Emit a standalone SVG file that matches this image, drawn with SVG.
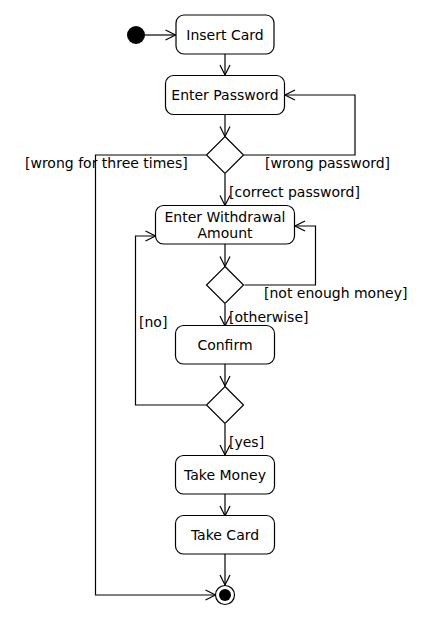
<svg xmlns="http://www.w3.org/2000/svg" width="432" height="638" viewBox="0 0 432 638">
<style>
.n{fill:#fff;stroke:#000;stroke-width:1.2}
.t{font-family:"DejaVu Sans",sans-serif;font-size:14px;fill:#000}
.c{text-anchor:middle}
.e{fill:none;stroke:#000;stroke-width:1.2;marker-end:url(#a)}
</style>
<defs>
<marker id="a" markerUnits="userSpaceOnUse" markerWidth="14" markerHeight="14" viewBox="-11 -7 12 14" refX="0" refY="0" orient="auto">
<path d="M-10,-5 L0,0 L-10,5" fill="none" stroke="#000" stroke-width="1.2"/>
</marker>
</defs>
<rect width="432" height="638" fill="#fff"/>
<g id="connectors">
<path class="e" d="M145,35 L175.5,35"/>
<path class="e" d="M225,54 L225,75"/>
<path class="e" d="M225,114 L225,136.5"/>
<path class="e" d="M225,174 L225,205.5"/>
<path class="e" d="M244,155 L355,155 L355,95 L285,95"/>
<path class="e" d="M206,155 L95.5,155 L95.5,595 L215.5,595"/>
<path class="e" d="M225,244 L225,266.5"/>
<path class="e" d="M244.5,285 L315.5,285 L315.5,226 L295,226"/>
<path class="e" d="M225,304 L225,326"/>
<path class="e" d="M225,364 L225,386"/>
<path class="e" d="M206,405 L135.5,405 L135.5,236 L155.5,236"/>
<path class="e" d="M225,424 L225,455"/>
<path class="e" d="M225,494 L225,516"/>
<path class="e" d="M225,554 L225,585"/>
<text class="t" x="25" y="168">[wrong for three times]</text>
<text class="t" x="265" y="168">[wrong password]</text>
<text class="t" x="229" y="197">[correct password]</text>
<text class="t" x="264" y="298">[not enough money]</text>
<text class="t" x="229" y="322">[otherwise]</text>
<text class="t" x="139" y="327">[no]</text>
<text class="t" x="229" y="447">[yes]</text>
</g>
<g id="start"><circle cx="136" cy="35" r="9" fill="#000"/></g>
<g id="insertCard"><rect class="n" x="176" y="15" width="98" height="39" rx="8"/><text class="t c" x="225" y="40">Insert Card</text></g>
<g id="enterPassword"><rect class="n" x="165.5" y="75.5" width="119" height="39" rx="8"/><text class="t c" x="225" y="100">Enter Password</text></g>
<g id="decision1"><polygon class="n" points="225,136.5 243.5,155 225,173.5 206.5,155"/></g>
<g id="enterAmount"><rect class="n" x="155.5" y="205.5" width="139" height="38.5" rx="8"/><text class="t c" x="225" y="222">Enter Withdrawal</text><text class="t c" x="225" y="238">Amount</text></g>
<g id="decision2"><polygon class="n" points="225,266.5 243.5,285 225,303.5 206.5,285"/></g>
<g id="confirm"><rect class="n" x="175.5" y="325.5" width="99" height="38.5" rx="8"/><text class="t c" x="225" y="350">Confirm</text></g>
<g id="decision3"><polygon class="n" points="225,386.5 243.5,405 225,423.5 206.5,405"/></g>
<g id="takeMoney"><rect class="n" x="175.5" y="455.5" width="99" height="38.5" rx="8"/><text class="t c" x="225" y="480">Take Money</text></g>
<g id="takeCard"><rect class="n" x="175.5" y="515.5" width="99" height="38.5" rx="8"/><text class="t c" x="225" y="540">Take Card</text></g>
<g id="end"><circle cx="225" cy="595" r="9.5" fill="#fff" stroke="#000" stroke-width="1.2"/><circle cx="225" cy="595" r="6" fill="#000"/></g>
</svg>
